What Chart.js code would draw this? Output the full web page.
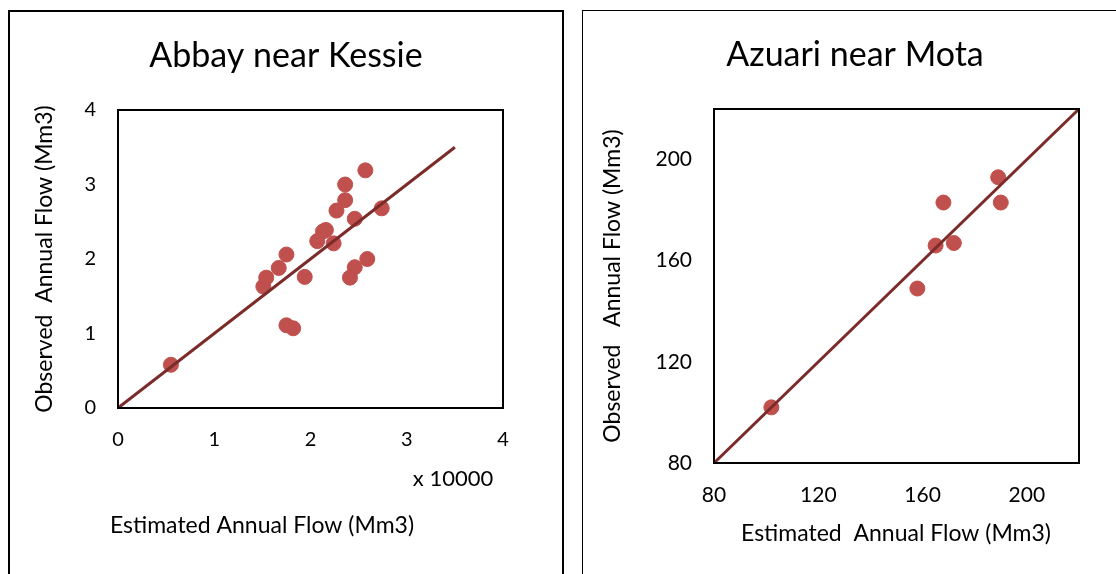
<!DOCTYPE html>
<html>
<head>
<meta charset="utf-8">
<script src="https://cdn.jsdelivr.net/npm/chart.js@4.4.1/dist/chart.umd.min.js"></script>
<style>
  body { margin: 0; background: #fff; width: 1116px; height: 574px; overflow: hidden; position: relative; }
  .panel { position: absolute; border: 1.5px solid #000; background: #fff; }
  #leftPanel { left: 8px; top: 10px; width: 552px; height: 580px; border-width: 2px; }
  #rightPanel { left: 582px; top: 10px; width: 544px; height: 580px; }
  canvas { display: block; }
</style>
</head>
<body>
<div class="panel" id="leftPanel"><canvas id="abbayChart" width="552" height="562"></canvas></div>
<div class="panel" id="rightPanel"><canvas id="azuariChart" width="544" height="562"></canvas></div>
<script>
// Abbay near Kessie (x in units of 10000 Mm3)
const abbayEstimated = [0.55, 2.57, 2.36, 2.36, 2.27, 2.74, 2.46, 2.16, 2.13, 2.07, 2.24, 1.75, 1.67, 1.54, 1.51, 1.94, 2.59, 2.46, 2.41, 1.75, 1.82];
const abbayObserved  = [0.58, 3.19, 3.00, 2.79, 2.65, 2.68, 2.54, 2.39, 2.37, 2.24, 2.21, 2.06, 1.88, 1.75, 1.63, 1.76, 2.00, 1.89, 1.75, 1.11, 1.07];
const abbayLine = [0, 3.5];
const abbayTicks = [0, 1, 2, 3, 4];

// Azuari near Mota
const azuariEstimated = [102, 158, 165, 172, 168, 189, 190];
const azuariObserved  = [102, 149, 166, 167, 183, 193, 183];
const azuariLine = [80, 220];
const azuariTicks = [80, 120, 160, 200];

const FONT = 'Lato, "Open Sans", sans-serif';
const MARKER = '#C0504D';
const LINE = '#7B2C2A';

Chart.defaults.font.family = FONT;
Chart.defaults.color = '#000';

// frame round the plot area plus free-standing labels (titles, x titles)
const framePlugin = {
    id: 'plotFrame',
    afterDraw(chart, args, opts) {
        const a = chart.chartArea;
        const ctx = chart.ctx;
        ctx.save();
        ctx.strokeStyle = '#000';
        ctx.lineWidth = 2;
        ctx.strokeRect(a.left, a.top, a.right - a.left, a.bottom - a.top);
        ctx.fillStyle = '#000';
        ctx.textAlign = 'center';
        ctx.textBaseline = 'middle';
        (opts.labels || []).forEach(function(l) {
            ctx.font = l.size + 'px ' + FONT;
            ctx.fillText(l.text, l.x, l.y);
        });
        ctx.restore();
    }
};

function toPoints(xs, ys) {
    return xs.map(function(x, i) { return { x: x, y: ys[i] }; });
}

function makeChart(id, cfg) {
    const ctx = document.getElementById(id).getContext('2d');
    const axisMax = Math.max(cfg.ticks[cfg.ticks.length - 1], cfg.line[1]);
    return new Chart(ctx, {
        type: 'scatter',
        data: {
            datasets: [
                {
                    type: 'line',
                    data: toPoints(cfg.line, cfg.line),
                    borderColor: LINE,
                    borderWidth: 3,
                    pointRadius: 0,
                    fill: false,
                    order: 0
                },
                {
                    data: toPoints(cfg.xs, cfg.ys),
                    backgroundColor: MARKER,
                    borderColor: MARKER,
                    pointRadius: 7.5,
                    order: 1
                }
            ]
        },
        options: {
            responsive: false,
            animation: false,
            layout: { padding: { left: 0, right: cfg.padRight, top: 98, bottom: 0 } },
            scales: {
                x: {
                    min: cfg.line[0],
                    max: axisMax,
                    grid: { display: false, drawTicks: false },
                    border: { display: false },
                    ticks: { padding: cfg.xTickPad, font: { size: cfg.tickSize }, maxRotation: 0 },
                    afterBuildTicks: function(s) { s.ticks = cfg.ticks.map(function(v) { return { value: v }; }); },
                    afterFit: function(s) { s.height = cfg.xHeight; }
                },
                y: {
                    min: cfg.line[0],
                    max: axisMax,
                    grid: { display: false, drawTicks: false },
                    border: { display: false },
                    ticks: { padding: cfg.yTickPad, font: { size: cfg.tickSize } },
                    afterBuildTicks: function(s) { s.ticks = cfg.ticks.map(function(v) { return { value: v }; }); },
                    afterFit: function(s) { s.width = cfg.yWidth; },
                    title: {
                        display: true,
                        text: cfg.yTitle,
                        font: { size: 23 },
                        padding: { top: cfg.yTitlePad, bottom: 0 }
                    }
                }
            },
            plugins: {
                legend: { display: false },
                tooltip: { enabled: false },
                title: { display: false },
                plotFrame: { labels: cfg.labels }
            }
        },
        plugins: [framePlugin]
    });
}

makeChart('abbayChart', {
    xs: abbayEstimated, ys: abbayObserved, line: abbayLine, ticks: abbayTicks,
    yTitle: 'Observed  Annual Flow (Mm3)',
    padRight: 59, yWidth: 108, xHeight: 166, xTickPad: 20, yTickPad: 22, yTitlePad: 21, tickSize: 20,
    labels: [
        { text: 'Abbay near Kessie', x: 276, y: 44, size: 34 },
        { text: 'x 10000', x: 443, y: 467, size: 22 },
        { text: 'Estimated Annual Flow (Mm3)', x: 252, y: 514, size: 23 }
    ]
});

makeChart('azuariChart', {
    xs: azuariEstimated, ys: azuariObserved, line: azuariLine, ticks: azuariTicks,
    yTitle: 'Observed   Annual Flow (Mm3)',
    padRight: 48, yWidth: 131, xHeight: 110, xTickPad: 20, yTickPad: 22, yTitlePad: 16, tickSize: 21,
    labels: [
        { text: 'Azuari near Mota', x: 272, y: 44, size: 34 },
        { text: 'Estimated  Annual Flow (Mm3)', x: 313, y: 523, size: 23 }
    ]
});
</script>
</body>
</html>
